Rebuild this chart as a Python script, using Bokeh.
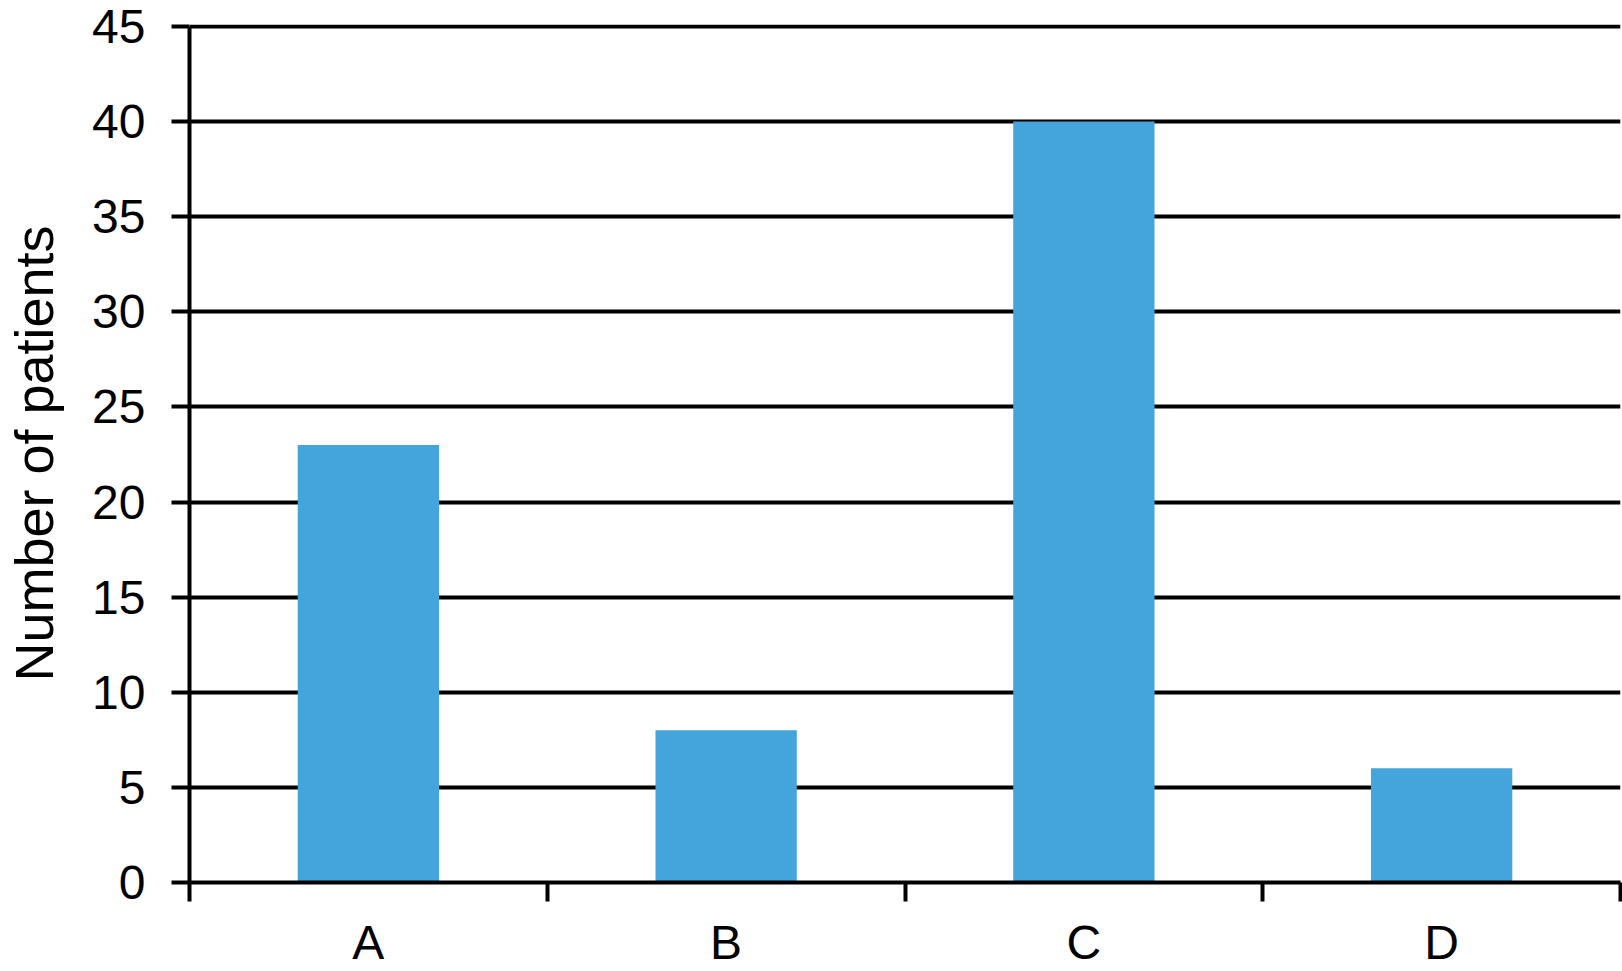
from bokeh.plotting import figure
from bokeh.models import Range1d, FixedTicker, ColumnDataSource
from bokeh.embed import file_html
from bokeh.resources import INLINE

categories = ["A", "B", "C", "D"]
patients = [23, 8, 40, 6]
y_ticks = [0, 5, 10, 15, 20, 25, 30, 35, 40, 45]

positions = [i + 0.5 for i in range(len(categories))]
boundaries = list(range(len(categories) + 1))

src = ColumnDataSource(dict(x=positions, top=patients, cat=categories))

FONT = "Liberation Sans"

p = figure(
    width=1622, height=971,
    x_range=Range1d(0, len(categories)), y_range=Range1d(0, 45.1),
    output_backend="svg", toolbar_location=None,
    min_border_left=189, min_border_top=24, min_border_right=2, min_border_bottom=88,
)
p.outline_line_color = None
p.background_fill_color = "white"
p.border_fill_color = "white"

p.vbar(x="x", top="top", bottom=0, width=0.395, source=src,
       fill_color="#43A5DC", line_color=None)

# y axis
p.yaxis.ticker = FixedTicker(ticks=y_ticks)
p.yaxis.bounds = (0, 45)
p.yaxis.axis_line_width = 4
p.yaxis.axis_line_color = "black"
p.yaxis.major_tick_line_width = 4
p.yaxis.major_tick_line_color = "black"
p.yaxis.major_tick_out = 18
p.yaxis.major_tick_in = 0
p.yaxis.minor_tick_line_color = None
p.yaxis.major_label_text_font = FONT
p.yaxis.major_label_text_font_size = "48px"
p.yaxis.major_label_text_color = "black"
p.yaxis.major_label_standoff = 26
p.yaxis.axis_label = "Number of patients"
p.yaxis.axis_label_text_font = FONT
p.yaxis.axis_label_text_font_size = "54px"
p.yaxis.axis_label_text_font_style = "normal"
p.yaxis.axis_label_text_color = "black"
p.yaxis.axis_label_standoff = 25

# x axis
p.xaxis.ticker = FixedTicker(ticks=positions, minor_ticks=boundaries)
p.xaxis.major_label_overrides = {pos: c for pos, c in zip(positions, categories)}
p.xaxis.axis_line_width = 4
p.xaxis.axis_line_color = "black"
p.xaxis.major_tick_line_color = None
p.xaxis.major_tick_out = 0
p.xaxis.major_tick_in = 0
p.xaxis.minor_tick_line_color = "black"
p.xaxis.minor_tick_line_width = 4
p.xaxis.minor_tick_out = 19
p.xaxis.minor_tick_in = 0
p.xaxis.major_label_text_font = FONT
p.xaxis.major_label_text_font_size = "48px"
p.xaxis.major_label_text_color = "black"
p.xaxis.major_label_standoff = 14

# grid
p.xgrid.grid_line_color = None
p.ygrid.ticker = FixedTicker(ticks=y_ticks)
p.ygrid.grid_line_color = "black"
p.ygrid.grid_line_width = 4

open("out.html", "w").write(file_html(p, INLINE))
